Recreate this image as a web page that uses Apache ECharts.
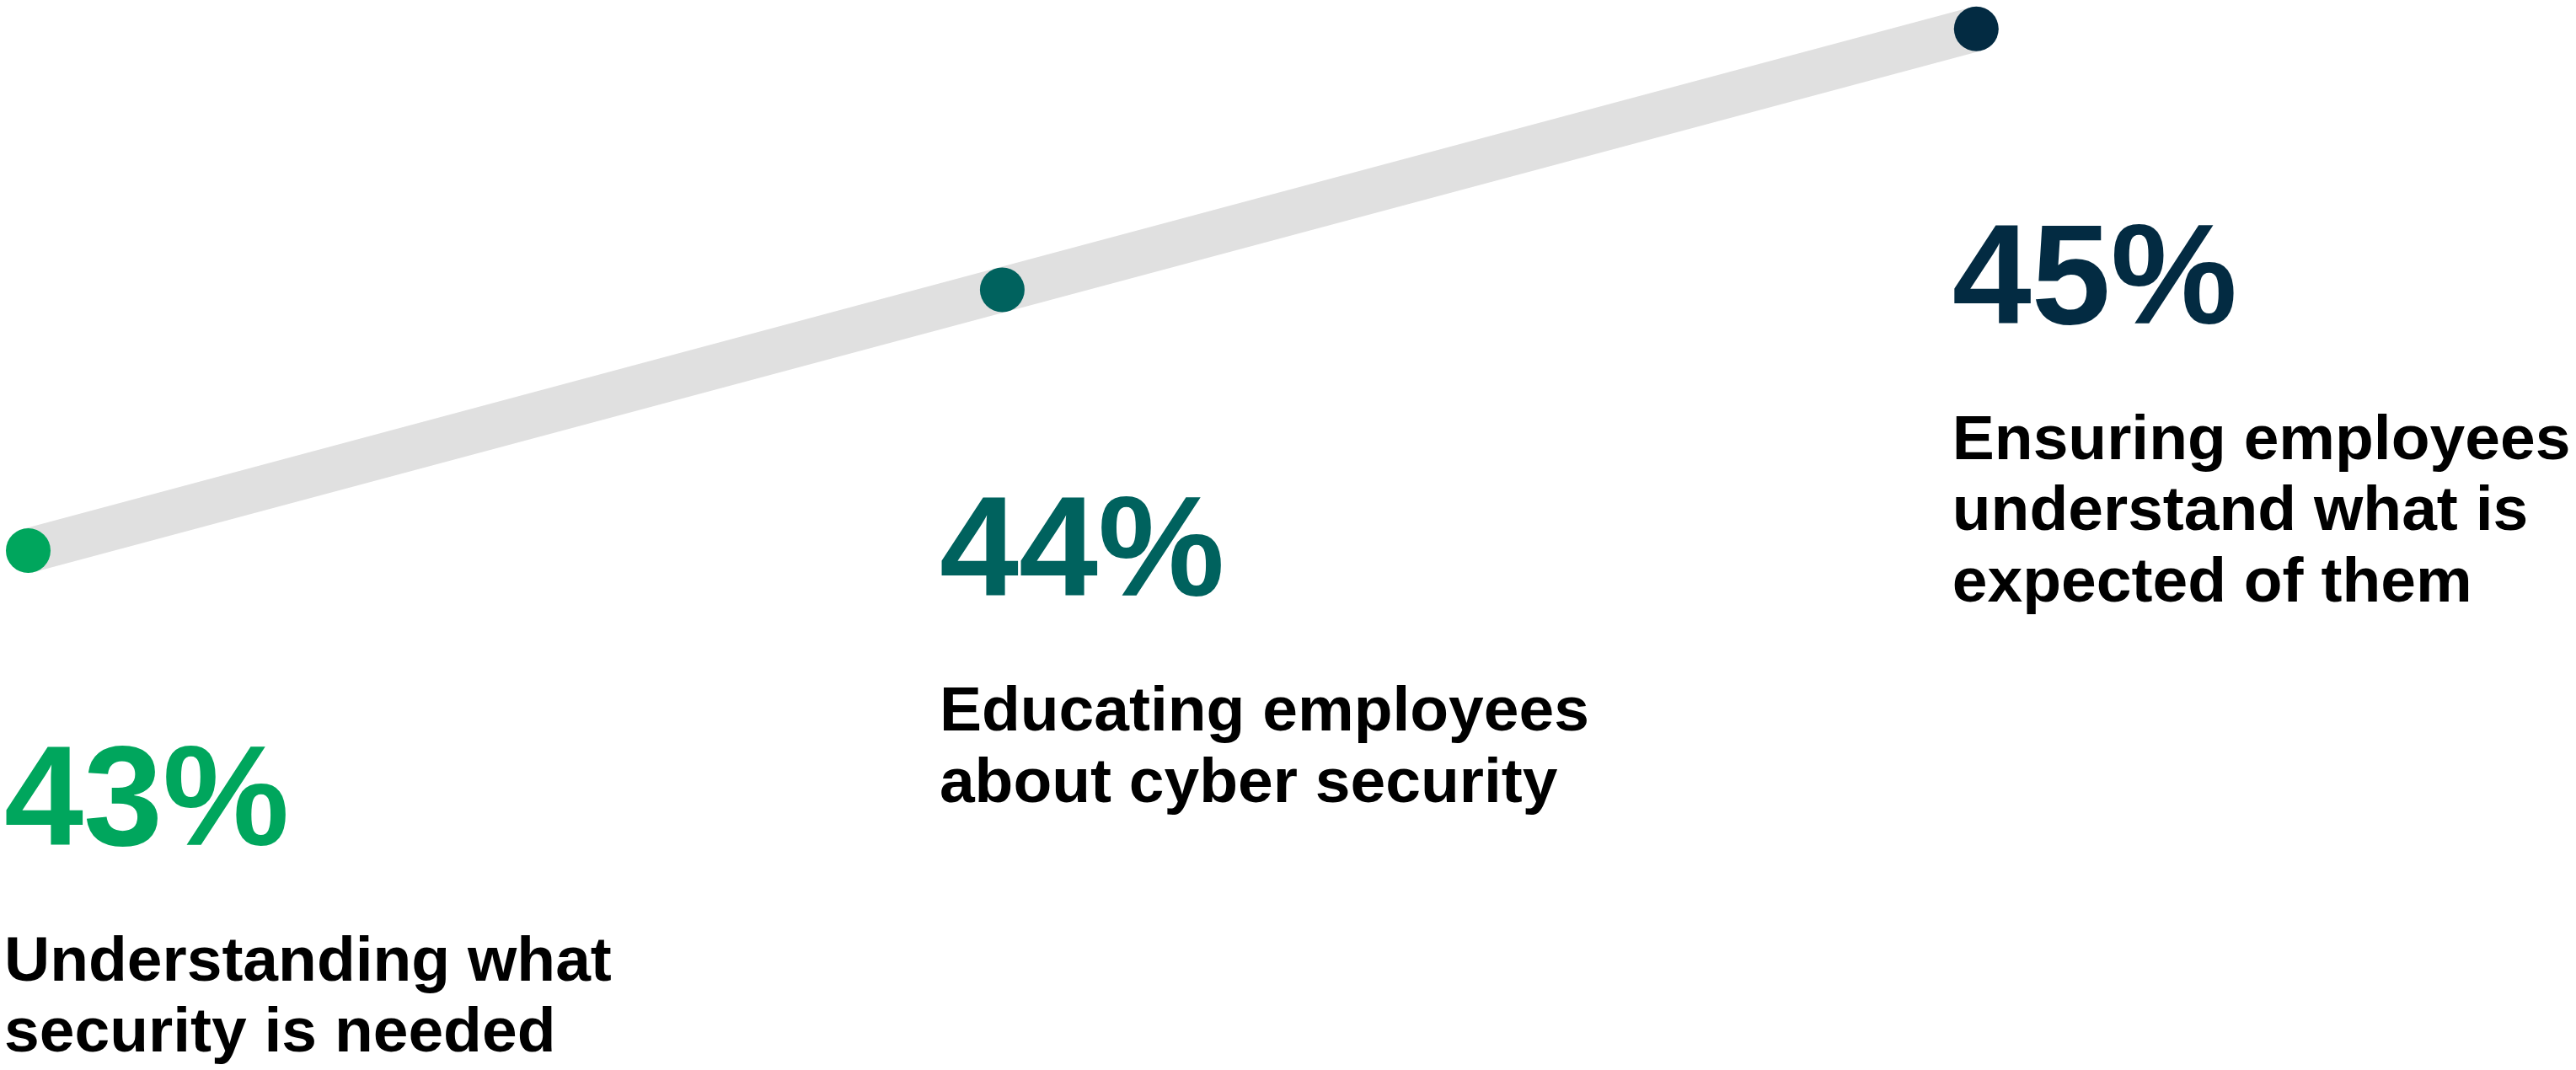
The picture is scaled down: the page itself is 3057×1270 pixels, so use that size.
<!DOCTYPE html>
<html>
<head>
<meta charset="utf-8">
<script src="https://cdn.jsdelivr.net/npm/echarts@6/dist/echarts.min.js"></script>
<style>
html,body{margin:0;padding:0;background:#fff;}
#main{width:3057px;height:1270px;}
</style>
</head>
<body>
<div id="main"></div>
<script>
const categories = ['Understanding what security is needed', 'Educating employees about cyber security', 'Ensuring employees understand what is expected of them'];
const labelLines = [
  ['Understanding what', 'security is needed'],
  ['Educating employees', 'about cyber security'],
  ['Ensuring employees', 'understand what is', 'expected of them']
];
const values = [43, 44, 45];
const colors = ['#00a65d', '#00625e', '#032b42'];

const FONT = '"Liberation Sans", Arial, sans-serif';
const labelOffsets = [[0, 0], [-46, 13], [0, 0]];

const chart = echarts.init(document.getElementById('main'), null, {renderer: 'canvas'});
chart.setOption({
  animation: false,
  backgroundColor: '#ffffff',
  grid: {left: 33.5, right: 711.7, top: 34.3, bottom: 616.5},
  xAxis: {type: 'category', data: categories, boundaryGap: false, show: false},
  yAxis: {type: 'value', min: 43, max: 45, show: false},
  series: [{
    type: 'line',
    clip: false,
    symbol: 'circle',
    symbolSize: 53,
    lineStyle: {color: '#e0e0e0', width: 53, cap: 'butt'},
    emphasis: {disabled: true},
    data: values.map((v, i) => ({
      value: v,
      itemStyle: {color: colors[i]},
      label: {
        show: true,
        position: [-2, 245],
        align: 'left',
        verticalAlign: 'top',
        offset: labelOffsets[i],
        formatter: () => '{num|' + v + '%}\n{gap| }\n' + labelLines[i].map(l => '{txt|' + l + '}').join('\n'),
        rich: {
          num: {fontFamily: FONT, fontWeight: 'bold', fontSize: 169, lineHeight: 169, color: colors[i]},
          gap: {fontSize: 10, lineHeight: 60},
          txt: {fontFamily: FONT, fontWeight: 'bold', fontSize: 75, lineHeight: 84.5, color: '#000000'}
        }
      }
    }))
  }]
});
</script>
</body>
</html>
